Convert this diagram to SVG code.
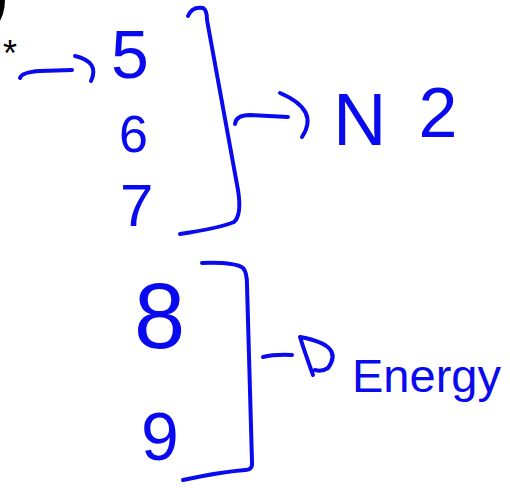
<svg xmlns="http://www.w3.org/2000/svg" width="510" height="488" viewBox="0 0 510 488">
<style>
.ink{fill:none;stroke:#0a0aee;stroke-width:4;stroke-linecap:round;stroke-linejoin:round}
.hw{fill:#0a0aee;font-family:"Liberation Sans","DejaVu Sans",sans-serif}
.blk{fill:#000;font-family:"Liberation Sans","DejaVu Sans",sans-serif}
</style>
<rect width="510" height="488" fill="#fff"/>
<g id="mark">
<text class="blk" x="-12" y="15" font-size="60" font-weight="bold">)</text>
<text class="blk" x="3" y="66" font-size="36">*</text>
</g>
<g id="n5"><text class="hw" x="111" y="78" font-size="68">5</text></g>
<g id="n6"><text class="hw" x="119" y="152" font-size="52">6</text></g>
<g id="n7"><text class="hw" x="120" y="226" font-size="60">7</text></g>
<g id="n8"><text class="hw" x="134" y="348" font-size="92">8</text></g>
<g id="n9"><text class="hw" x="141" y="460" font-size="68">9</text></g>
<g id="N2"><text class="hw" x="333" y="145" font-size="74">N<tspan dx="32" dy="-8" font-size="70">2</tspan></text></g>
<g id="energy"><text class="hw" x="352" y="392" font-size="47">Energy</text></g>
<g id="connectors">
<path class="ink" d="M20,78 Q22,72 40,71 L72,70 M75,56 Q100,62 91,81"/>
<path class="ink" d="M188,16 Q192,6 203,8 Q207,10 207,20 L238,190 Q242,215 234,222 Q220,228 180,234"/>
<path class="ink" d="M235,124 Q236,115 250,115 L288,117 M280,93 Q320,110 302,137"/>
<path class="ink" d="M202,263 Q235,262 243,268 Q247,272 247,285 L252,462 Q253,470 245,470 Q220,472 183,480"/>
<path class="ink" d="M263,357 Q275,354 292,355 M300,337 Q304,350 313,375 M300,337 Q345,345 328,368 Q322,372 315,370"/>
</g>
</svg>
